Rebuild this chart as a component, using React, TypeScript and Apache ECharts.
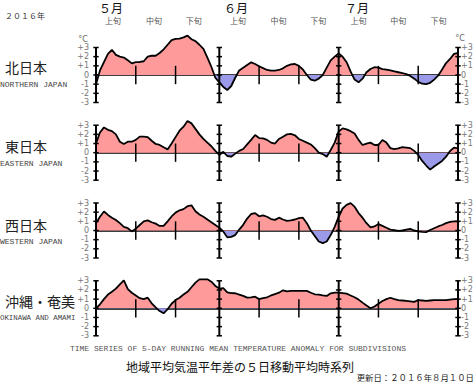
import React, { useEffect, useRef } from 'react';
import * as echarts from 'echarts';

// day index 0 = May 1, 91 = July 31
const dayIndex: number[] = Array.from({ length: 92 }, (_, i) => i);

const regionNames = ['北日本', '東日本', '西日本', '沖縄・奄美'];
const regionNamesEn = ['NORTHERN JAPAN', 'EASTERN JAPAN', 'WESTERN JAPAN', 'OKINAWA AND AMAMI'];

const northern = [
  -1.0, 0.5, 1.4, 2.3, 2.75, 2.2, 2.0, 1.9, 1.6, 1.27,
  1.4, 1.42, 1.5, 2.0, 2.1, 2.1, 2.4, 2.8, 3.3, 3.8,
  3.95, 3.96, 4.1, 4.3, 3.9, 3.7, 3.3, 2.84, 1.9, 0.9,
  -0.3, -0.8, -1.3, -1.64, -1.2, -0.3, 0.5, 0.8, 1.1, 1.38,
  1.2, 0.95, 0.75, 0.55, 0.47, 0.47, 0.55, 0.73, 1.0, 1.15,
  1.2, 1.0, 0.6, 0.0, -0.5, -0.62, -0.4, 0.0, 0.8, 1.6,
  2.0, 2.36, 2.0, 1.4, 0.4, -0.5, -0.8, -0.4, 0.3, 0.65,
  0.85, 0.8, 0.65, 0.58, 0.5, 0.4, 0.3, 0.2, 0.1, -0.1,
  -0.4, -0.75, -0.95, -1.0, -0.85, -0.5, -0.07, 0.6, 1.3, 1.75,
  2.3, 2.4,
];
const eastern = [
  1.0, 2.2, 2.76, 2.5, 2.35, 2.0, 1.2, 0.95, 1.2, 1.2,
  1.4, 1.75, 1.75, 1.7, 1.3, 0.95, 0.85, 0.6, 0.36, 1.0,
  1.7, 2.4, 2.84, 3.45, 3.2, 2.6, 2.0, 1.5, 1.1, 0.7,
  0.2, -0.25, 0.1, -0.36, -0.44, -0.1, 0.2, 0.4, 0.9, 1.4,
  1.93, 1.6, 1.56, 1.4, 1.1, 1.0, 1.5, 1.75, 2.0, 2.05,
  1.9, 1.5, 1.3, 1.1, 0.9, 0.5, 0.0, -0.15, -0.44, 0.3,
  1.1, 2.3, 2.65, 2.55, 2.35, 2.1, 1.4, 0.84, 1.0, 1.1,
  0.84, 0.84, 1.38, 1.1, 0.5, 0.4, 0.47, 0.6, 0.55, 0.5,
  0.2, -0.25, -0.9, -1.4, -1.85, -1.5, -1.2, -0.9, -0.44, 0.18,
  0.55, 0.47,
];
const western = [
  0.8, 1.5, 2.07, 1.7, 1.4, 1.15, 0.8, 0.4, 0.25, -0.1,
  0.2, 0.6, 1.0, 1.1, 0.9, 0.75, 0.5, 0.5, 1.0, 1.53,
  1.95, 2.2, 2.33, 2.65, 2.75, 2.1, 1.75, 1.5, 1.2, 0.9,
  0.6, 0.3, -0.1, -0.75, -0.7, -0.5, 0.1, 0.62, 1.3, 1.8,
  1.9, 1.55, 1.65, 1.5, 1.25, 1.16, 1.4, 1.2, 1.05, 1.1,
  1.2, 1.35, 1.4, 0.8, 0.0, -0.6, -1.2, -1.38, -1.2, -0.5,
  0.4, 1.5, 2.4, 2.8, 2.98, 2.6, 1.9, 1.4, 0.8, 0.35,
  0.44, 0.7, 0.5, 0.3, 0.1, 0.05, -0.04, 0.0, 0.1, 0.18,
  0.0, -0.1, -0.15, -0.18, 0.05, 0.25, 0.44, 0.6, 0.8, 0.95,
  1.0, 1.0,
];
const okinawa = [
  0.0, 0.44, 1.0, 1.5, 1.8, 2.15, 2.6, 3.05, 2.1, 1.7,
  1.4, 1.1, 1.0, 1.16, 0.55, 0.1, -0.3, -0.55, -0.1, 0.5,
  0.9, 1.15, 1.5, 1.8, 2.3, 2.8, 3.16, 3.16, 3.16, 2.9,
  2.44, 2.15, 2.2, 1.75, 1.65, 1.64, 1.5, 1.35, 1.16, 1.2,
  1.27, 1.0, 1.1, 1.2, 1.4, 1.55, 1.7, 1.96, 1.85, 1.9,
  1.9, 1.9, 1.9, 1.9, 1.7, 1.53, 1.5, 1.42, 1.35, 1.64,
  1.7, 1.7, 1.65, 1.6, 1.4, 1.2, 0.95, 0.62, 0.3, 0.0,
  0.2, 0.5, 0.8, 1.0, 1.15, 1.0, 0.9, 0.85, 0.8, 0.75,
  0.7, 0.9, 0.85, 0.8, 0.85, 0.9, 0.9, 0.9, 0.9, 0.95,
  1.0, 1.0,
];
const seriesValues = [northern, eastern, western, okinawa];

const yTickValues = [-3, -2, -1, 0, 1, 2, 3];
const monthNames = ['５月', '６月', '７月'];
const monthLabelPos = [3.8, 35.2, 65.6];
const dekadNames = ['上旬', '中旬', '下旬', '上旬', '中旬', '下旬', '上旬', '中旬', '下旬'];
const dekadLabelPos = [4.3, 14.6, 24.6, 35.7, 45.9, 55.9, 66, 76, 86.1];
const monthAxisAt = [0, 31, 61, 91];
const dekadTickAt = [10, 20, 41, 51, 71, 81];

const CJK = '"Noto Sans CJK JP", sans-serif';
const MONO = '"Liberation Mono", "DejaVu Sans Mono", monospace';
const SANS = '"DejaVu Sans", sans-serif';

const gridTops = [47.5, 125.2, 203, 280.8];
const nameY = [68, 147, 226, 302];
const nameEnY = [85, 164, 242, 319];
const nameEnSize = [8, 8, 8, 7.4];

function fmtY(v: number) {
  return v > 0 ? '+' + v : String(v);
}

export default function App() {
  const ref = useRef<HTMLDivElement>(null);
  useEffect(() => {
    if (!ref.current) return;
    const chart = echarts.init(ref.current, undefined, { renderer: 'svg' });

    const grid: any[] = [];
    const xAxis: any[] = [];
    const yAxis: any[] = [];
    const series: any[] = [];
    const visualMap: any[] = [];

    seriesValues.forEach((vals, i) => {
      grid.push({ left: 96, width: 362, top: gridTops[i], height: 55, containLabel: false });
      xAxis.push({
        gridIndex: i, type: 'value', min: 0, max: 91, position: 'bottom',
        axisLine: { show: true, onZero: true, lineStyle: { color: '#000', width: 1.5 } },
        axisTick: { show: false }, axisLabel: { show: false }, splitLine: { show: false },
      });
      const yBase = {
        gridIndex: i, type: 'value', min: -3, max: 3, interval: 1,
        axisLine: { show: false }, axisTick: { show: false }, splitLine: { show: false },
      };
      yAxis.push({
        ...yBase, position: 'left',
        axisLabel: { formatter: fmtY, fontSize: 8, color: '#777', margin: 7, fontFamily: SANS },
      });
      yAxis.push({
        ...yBase, position: 'right',
        axisLabel: { formatter: fmtY, fontSize: 8, color: '#777', margin: 3, fontFamily: SANS },
      });
      series.push({
        type: 'line', xAxisIndex: i, yAxisIndex: 2 * i,
        data: dayIndex.map((d, k) => [d, vals[k]]),
        symbol: 'none', showSymbol: false, clip: false, z: 2,
        lineStyle: { color: '#000', width: 1.8 },
        areaStyle: { opacity: 1 },
      });
      series.push({
        type: 'custom', xAxisIndex: i, yAxisIndex: 2 * i, clip: false, z: 5, silent: true,
        data: monthAxisAt.map((x) => [x, 0]).concat(dekadTickAt.map((x) => [x, 1])),
        renderItem: (params: any, api: any) => {
          const x = api.value(0);
          const kind = api.value(1);
          const children: any[] = [];
          if (kind === 0) {
            const p1 = api.coord([x, -3]);
            const p2 = api.coord([x, 3]);
            children.push({
              type: 'line', shape: { x1: p1[0], y1: p1[1], x2: p2[0], y2: p2[1] },
              style: { stroke: '#000', lineWidth: 2 },
            });
            yTickValues.forEach((v) => {
              const p = api.coord([x, v]);
              children.push({
                type: 'line', shape: { x1: p[0] - 2.7, y1: p[1], x2: p[0] + 2.7, y2: p[1] },
                style: { stroke: '#000', lineWidth: 1.5 },
              });
            });
          } else {
            const p1 = api.coord([x, -1]);
            const p2 = api.coord([x, 1]);
            children.push({
              type: 'line', shape: { x1: p1[0], y1: p1[1], x2: p2[0], y2: p2[1] },
              style: { stroke: '#000', lineWidth: 1.5 },
            });
          }
          return { type: 'group', children };
        },
      });
      visualMap.push({
        type: 'piecewise', show: false, seriesIndex: 2 * i, dimension: 1,
        pieces: [
          { gte: -20, lt: 0, color: '#9a9ae8' },
          { gte: 0, lte: 20, color: '#ff9a9a' },
        ],
      });
    });

    xAxis.push({
      gridIndex: 0, type: 'value', min: 0, max: 91, position: 'top',
      axisLine: { show: false, onZero: false }, axisTick: { show: false }, splitLine: { show: false },
      axisLabel: {
        customValues: dekadLabelPos,
        formatter: (v: number) => dekadNames[dekadLabelPos.indexOf(v)] ?? '',
        fontSize: 8, color: '#555', margin: 23, fontFamily: CJK,
      },
    });
    xAxis.push({
      gridIndex: 0, type: 'value', min: 0, max: 91, position: 'top',
      axisLine: { show: false, onZero: false }, axisTick: { show: false }, splitLine: { show: false },
      axisLabel: {
        customValues: monthLabelPos,
        formatter: (v: number) => monthNames[monthLabelPos.indexOf(v)] ?? '',
        fontSize: 12, color: '#111', margin: 34, fontFamily: CJK,
      },
    });

    const graphic: any[] = [];
    regionNames.forEach((n, i) => {
      graphic.push({
        type: 'text', left: 5, top: nameY[i] - 8,
        style: { text: n, fontSize: 14, fontFamily: CJK, fill: '#222' },
      });
      graphic.push({
        type: 'text', left: 0, top: nameEnY[i] - 5,
        style: { text: regionNamesEn[i], fontSize: nameEnSize[i], fontFamily: MONO, fill: '#444' },
      });
    });
    graphic.push(
      { type: 'text', left: 5, top: 11, style: { text: '２０１６年', fontSize: 8, fontFamily: CJK, fill: '#333' } },
      { type: 'text', x: 83, y: 39, style: { text: '°C', fontSize: 8, fontFamily: SANS, fill: '#666', align: 'center', verticalAlign: 'middle' } },
      { type: 'text', x: 460, y: 38, style: { text: '°C', fontSize: 8, fontFamily: SANS, fill: '#666', align: 'center', verticalAlign: 'middle' } },
      { type: 'text', x: 238, y: 348, style: { text: 'TIME SERIES OF 5-DAY RUNNING MEAN TEMPERATURE ANOMALY FOR SUBDIVISIONS', fontSize: 8, fontFamily: MONO, fill: '#555', align: 'center', verticalAlign: 'middle' } },
      { type: 'text', x: 240, y: 366.5, style: { text: '地域平均気温平年差の５日移動平均時系列', fontSize: 12, fontFamily: CJK, fill: '#111', align: 'center', verticalAlign: 'middle' } },
      { type: 'text', x: 474, y: 376.5, style: { text: '更新日：２０１６年８月１０日', fontSize: 8.4, fontFamily: CJK, fill: '#222', align: 'right', verticalAlign: 'middle' } },
    );

    chart.setOption({
      animation: false,
      backgroundColor: '#fff',
      grid, xAxis, yAxis, series, visualMap, graphic,
    });
    return () => chart.dispose();
  }, []);
  return <div ref={ref} style={{ position: 'absolute', left: 0, top: 0, width: 476, height: 382 }} />;
}
